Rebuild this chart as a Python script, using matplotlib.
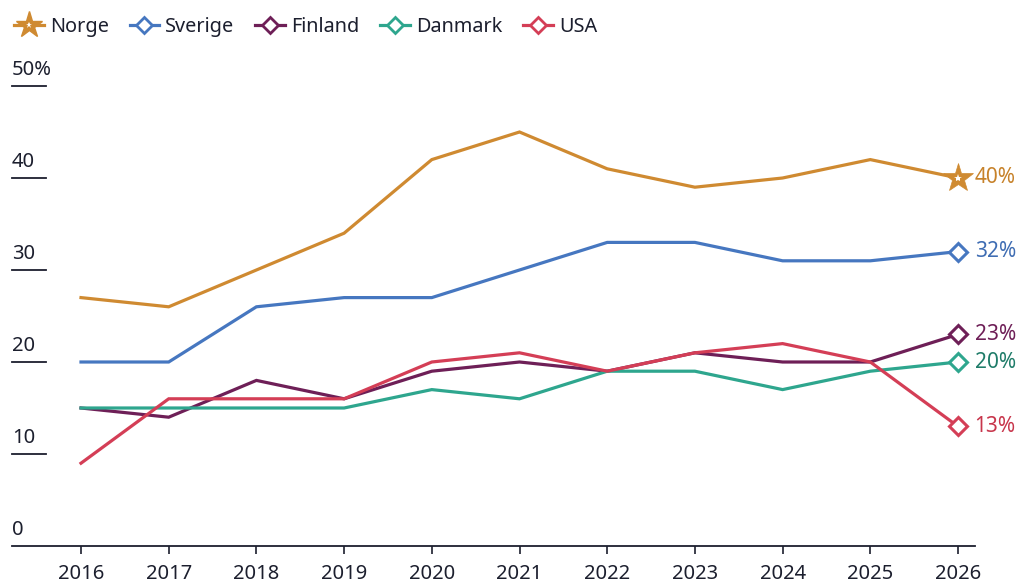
import matplotlib
matplotlib.use("Agg")
import matplotlib.pyplot as plt
from matplotlib.lines import Line2D
import matplotlib.transforms as mtransforms
from matplotlib.legend_handler import HandlerLine2D

years = [2016, 2017, 2018, 2019, 2020, 2021, 2022, 2023, 2024, 2025, 2026]
norge = [27, 26, 30, 34, 42, 45, 41, 39, 40, 42, 40]
sverige = [20, 20, 26, 27, 27, 30, 33, 33, 31, 31, 32]
finland = [15, 14, 18, 16, 19, 20, 19, 21, 20, 20, 23]
danmark = [15, 15, 15, 15, 17, 16, 19, 19, 17, 19, 20]
usa = [9, 16, 16, 16, 20, 21, 19, 21, 22, 20, 13]
series_names = ["Norge", "Sverige", "Finland", "Danmark", "USA"]
y_ticks = [0, 10, 20, 30, 40, 50]
y_tick_labels = ["0", "10", "20", "30", "40", "50%"]

colors = ["#CF8A31", "#4677C0", "#6E1F57", "#2EA68E", "#D43E56"]
label_colors = ["#C7822A", "#3F6DB3", "#6E1F57", "#1F7C69", "#C8364C"]
text_color = "#1c1f2e"

plt.rcParams['font.family'] = ['Noto Sans', 'DejaVu Sans']
FS = 14.5
LFS = 14.3

fig = plt.figure(figsize=(10.2, 5.86), dpi=100)
W, H = 1020, 586
ax_left, ax_right = 12, 975
ax_bottom, ax_top = 546, 86
ax = fig.add_axes([ax_left / W, 1 - ax_bottom / H, (ax_right - ax_left) / W, (ax_bottom - ax_top) / H])

px_per_year = (958 - 81) / 10
ax.set_xlim(2016 - (81 - ax_left) / px_per_year, 2026 + (ax_right - 958) / px_per_year)
ax.set_ylim(0, 50)

data = [norge, sverige, finland, danmark, usa]
lw = 2.3
for name, vals, c in zip(series_names, data, colors):
    ax.plot(years, vals, color=c, lw=lw, solid_joinstyle='miter', clip_on=False, zorder=3)

# end markers
for i, (vals, c, lc) in enumerate(zip(data, colors, label_colors)):
    if i == 0:
        ax.plot(years[-1], vals[-1], marker='*', ms=22, mfc=c, mec=c, mew=0.5, clip_on=False, zorder=5)
        ax.plot(years[-1], vals[-1], marker='*', ms=6, mfc='white', mec='white', mew=0, clip_on=False, zorder=6)
    else:
        ax.plot(years[-1], vals[-1], marker='D', ms=9, mfc='white', mec=c, mew=2.2, clip_on=False, zorder=5)
    ax.annotate(f"{vals[-1]}%", (years[-1], vals[-1]), xytext=(12, 0), textcoords='offset points',
                ha='left', va='center', fontsize=FS + 0.5, color=lc, fontweight='medium', annotation_clip=False)

# spines
for s in ['top', 'right', 'left']:
    ax.spines[s].set_visible(False)
ax.spines['bottom'].set_color(text_color)
ax.spines['bottom'].set_linewidth(1.3)

ax.set_xticks(years)
ax.set_xticklabels([str(y) for y in years])
ax.tick_params(axis='x', length=6, width=1.2, color=text_color, labelsize=FS, labelcolor=text_color, pad=7)
ax.set_yticks([])

# y tick labels with short underlines
trans = mtransforms.blended_transform_factory(ax.transAxes, ax.transData)
seg = (46 - 12) / (ax_right - ax_left)
for v, lab in zip(y_ticks, y_tick_labels):
    if v > 0:
        ax.plot([0, seg], [v, v], transform=trans, color=text_color, lw=1.3, clip_on=False, zorder=2)
    ax.text(0.0, v + 0.6, lab, transform=trans, ha='left', va='bottom', fontsize=FS, color=text_color)


class StarHandler(HandlerLine2D):
    def create_artists(self, legend, orig_handle, xdescent, ydescent, width, height, fontsize, trans):
        arts = super().create_artists(legend, orig_handle, xdescent, ydescent, width, height, fontsize, trans)
        x = width / 2 - xdescent
        y = height / 2 - ydescent
        inner = Line2D([x], [y], marker='*', ms=5, mfc='white', mec='white', mew=0, ls='none', transform=trans)
        return list(arts) + [inner]


# legend
handles = []
for i, c in enumerate(colors):
    if i == 0:
        handles.append(Line2D([0], [0], color=c, lw=lw, marker='*', ms=20, mfc=c, mec=c))
    else:
        handles.append(Line2D([0], [0], color=c, lw=lw, marker='D', ms=8, mfc='white', mec=c, mew=2))
leg = fig.legend(handles, series_names, loc='upper left', bbox_to_anchor=(0.0, 0.995), ncol=5,
                 frameon=False, fontsize=LFS, handlelength=1.5, handletextpad=0.3, columnspacing=1.05,
                 borderaxespad=0.3, labelcolor=text_color,
                 handler_map={handles[0]: StarHandler()})

fig.savefig("out.png", dpi=100)
